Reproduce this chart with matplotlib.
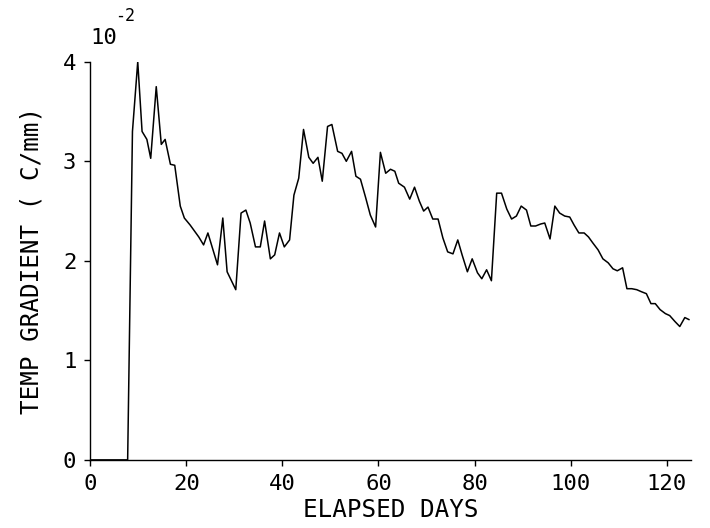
import numpy as np
import matplotlib.pyplot as plt

# elapsed days and temperature gradient (x 1e-2 C/mm)
days = [0, 7.8, 8.8, 9.9, 10.8, 11.8, 12.6, 13.75, 14.8, 15.6, 16.7, 17.6,
        18.75, 19.6, 20.8, 21.7, 22.6, 23.6, 24.5, 26.5, 27.6, 28.5, 30.3,
        31.4, 32.4, 33.3, 34.4, 35.4, 36.3, 37.5, 38.4, 39.4, 40.4, 41.5,
        42.4, 43.4, 44.4, 45.5, 46.4, 47.4, 48.3, 49.4, 50.3, 51.5, 52.4,
        53.3, 54.4, 55.3, 56.25, 57.3, 58.3, 59.4, 60.4, 61.5, 62.5, 63.4,
        64.2, 65.4, 66.5, 67.5, 68.5, 69.4, 70.3, 71.3, 72.4, 73.4, 74.4,
        75.5, 76.5, 77.4, 78.5, 79.5, 80.6, 81.5, 82.5, 83.5, 84.6, 85.6,
        86.7, 87.7, 88.7, 89.7, 90.8, 91.7, 92.7, 93.75, 94.6, 95.7, 96.7,
        97.7, 98.75, 99.8, 100.7, 101.7, 102.8, 103.7, 104.6, 105.7, 106.7,
        107.8, 108.8, 109.7, 110.8, 111.7, 112.7, 113.75, 114.7, 115.75,
        116.7, 117.6, 118.6, 119.7, 120.6, 121.7, 122.7, 123.75, 124.6]
grad = [0, 0, 3.3, 4.0, 3.30, 3.22, 3.03, 3.75, 3.17, 3.22, 2.97, 2.96,
        2.55, 2.43, 2.36, 2.30, 2.24, 2.16, 2.28, 1.96, 2.43, 1.89, 1.71,
        2.48, 2.51, 2.38, 2.14, 2.14, 2.40, 2.02, 2.06, 2.28, 2.14, 2.21,
        2.66, 2.83, 3.32, 3.04, 2.98, 3.04, 2.80, 3.35, 3.37, 3.10, 3.08,
        3.00, 3.10, 2.85, 2.82, 2.64, 2.46, 2.34, 3.09, 2.88, 2.92, 2.90,
        2.78, 2.74, 2.62, 2.74, 2.60, 2.50, 2.54, 2.42, 2.42, 2.23, 2.09,
        2.07, 2.21, 2.06, 1.89, 2.02, 1.88, 1.82, 1.91, 1.80, 2.68, 2.68,
        2.52, 2.42, 2.45, 2.55, 2.51, 2.35, 2.35, 2.37, 2.38, 2.22, 2.55,
        2.48, 2.45, 2.44, 2.36, 2.28, 2.28, 2.24, 2.18, 2.11, 2.02,
        1.98, 1.92, 1.90, 1.93, 1.72, 1.72, 1.71, 1.69, 1.67,
        1.57, 1.57, 1.51, 1.47, 1.45, 1.39, 1.34, 1.43, 1.41]

x_ticks = [0, 20, 40, 60, 80, 100, 120]
y_ticks = [0, 1, 2, 3, 4]

plt.rcParams['font.family'] = ['DejaVu Sans Mono', 'DejaVu Sans']

fig = plt.figure(figsize=(7.1, 5.28), dpi=100)
ax = fig.add_axes([0.127, 0.129, 0.846, 0.754])

ax.plot(days, grad, color='black', lw=1.1)

ax.set_xlim(0, 125)
ax.set_ylim(0, 4)
ax.set_xticks(x_ticks)
ax.set_yticks(y_ticks)
ax.tick_params(direction='out', length=4, width=1, labelsize=16, pad=6)

for side in ['top', 'right']:
    ax.spines[side].set_visible(False)
for side in ['left', 'bottom']:
    ax.spines[side].set_linewidth(1)

ax.set_xlabel('ELAPSED DAYS', fontsize=17.5, labelpad=3)
ax.set_ylabel('TEMP GRADIENT ( C/mm)', fontsize=17.5, labelpad=14)

# scale factor above the y axis
fig.text(0.127, 0.91, '10', fontsize=16, ha='left', va='bottom')
fig.text(0.162, 0.952, '-2', fontsize=12, ha='left', va='bottom')

fig.savefig('out.png', dpi=100)
